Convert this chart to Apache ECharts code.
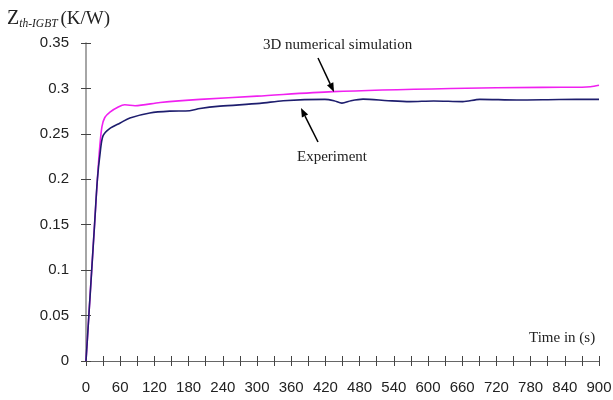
<!DOCTYPE html>
<html><head><meta charset="utf-8">
<script src="https://cdn.jsdelivr.net/npm/echarts@6/dist/echarts.min.js"></script>
<style>html,body{margin:0;padding:0;background:#fff}#c{width:613px;height:400px}</style>
</head><body><div id="c"></div>
<script>
var simTime = [0,5,10,15,20,24,28,33,42,55,68,86,130,200,300,433,640,800,870,885,900];
var simVal  = [0,0.05,0.1,0.15,0.2,0.235,0.258,0.268,0.274,0.279,0.282,0.281,0.2845,0.288,0.2915,0.2965,0.300,0.3012,0.3013,0.3018,0.3035];
var expTime = [0,5,10,15,20,25,30,42,60,77,112,147,182,200,235,305,346,419,435,449,465,486,530,568,610,661,691,756,830,900];
var expVal  = [0,0.05,0.1,0.15,0.2,0.23,0.248,0.256,0.262,0.2675,0.273,0.275,0.2755,0.278,0.2805,0.2835,0.2865,0.288,0.2865,0.2838,0.2865,0.2882,0.2865,0.2855,0.2862,0.2855,0.288,0.2873,0.2878,0.288];
var xTicks = [0,60,120,180,240,300,360,420,480,540,600,660,720,780,840,900];
var yTicks = [0,0.05,0.1,0.15,0.2,0.25,0.3,0.35];

function zip(a,b){return a.map(function(v,i){return [v,b[i]];});}
function arrow(x1,y1,x2,y2){
  var dx=x2-x1, dy=y2-y1, L=Math.sqrt(dx*dx+dy*dy), ux=dx/L, uy=dy/L, hl=9, hw=3.5;
  var bx=x2-ux*hl, by=y2-uy*hl;
  return [
    {type:'line',shape:{x1:x1,y1:y1,x2:bx,y2:by},style:{stroke:'#000',lineWidth:1.5},z:10},
    {type:'polygon',shape:{points:[[x2,y2],[bx-uy*hw,by+ux*hw],[bx+uy*hw,by-ux*hw]]},style:{fill:'#000'},z:10}
  ];
}
var serif = 'Liberation Serif, Times New Roman, serif';
var chart = echarts.init(document.getElementById('c'));
var ax = {color:'#222',fontFamily:'Liberation Sans, Arial, sans-serif',fontSize:15};
chart.setOption({
  animation:false,
  grid:{left:86,right:14,top:43,bottom:39,containLabel:false,outerBoundsMode:'none'},
  xAxis:[
    {type:'value',min:0,max:900,interval:30,
     axisLine:{show:true,onZero:false,lineStyle:{color:'#666',width:1.2}},
     axisTick:{show:true,length:5,lineStyle:{color:'#444'}},
     axisLabel:Object.assign({margin:19,formatter:function(v){return xTicks.indexOf(v)>=0?String(v):'';}},ax),
     splitLine:{show:false}},
    {type:'value',min:0,max:900,interval:30,position:'bottom',
     axisLine:{show:false,onZero:false},axisTick:{show:true,inside:true,length:5,lineStyle:{color:'#444'}},
     axisLabel:{show:false},splitLine:{show:false}}
  ],
  yAxis:[
    {type:'value',min:0,max:0.35,interval:0.05,
     axisLine:{show:true,onZero:false,lineStyle:{color:'#888',width:1.5}},
     axisTick:{show:true,length:5,lineStyle:{color:'#444'}},
     axisLabel:Object.assign({margin:17,formatter:function(v){var r=Math.round(v*100)/100;return yTicks.indexOf(r)>=0?String(r):'';}},ax),
     splitLine:{show:false}},
    {type:'value',min:0,max:0.35,interval:0.05,position:'left',
     axisLine:{show:false,onZero:false},axisTick:{show:true,inside:true,length:5,lineStyle:{color:'#444'}},
     axisLabel:{show:false},splitLine:{show:false}}
  ],
  series:[
    {type:'line',name:'3D numerical simulation',data:zip(simTime,simVal),smooth:0.3,showSymbol:false,
     lineStyle:{color:'#f020f0',width:1.6},z:3},
    {type:'line',name:'Experiment',data:zip(expTime,expVal),smooth:0.3,showSymbol:false,
     lineStyle:{color:'#1e1e6e',width:1.6},z:4}
  ],
  graphic:[
    {type:'text',left:7,top:9,style:{rich:{
        z:{fontFamily:serif,fontSize:20,fill:'#222'},
        s:{fontFamily:serif,fontSize:11.5,fontStyle:'italic',fill:'#222',padding:[9,3,0,0]},
        u:{fontFamily:serif,fontSize:19,fill:'#222'}},
      text:'{z|Z}{s|th-IGBT}{u|(K/W)}'}},
    {type:'text',left:529,top:331,style:{text:'Time in (s)',fontFamily:serif,fontSize:15,fill:'#222'}},
    {type:'text',left:263,top:38,style:{text:'3D numerical simulation',fontFamily:serif,fontSize:15,fill:'#222'}},
    {type:'text',left:297,top:150,style:{text:'Experiment',fontFamily:serif,fontSize:15,fill:'#222'}}
  ].concat(arrow(318,58,334,92)).concat(arrow(318,142,301,108))
});
</script></body></html>
